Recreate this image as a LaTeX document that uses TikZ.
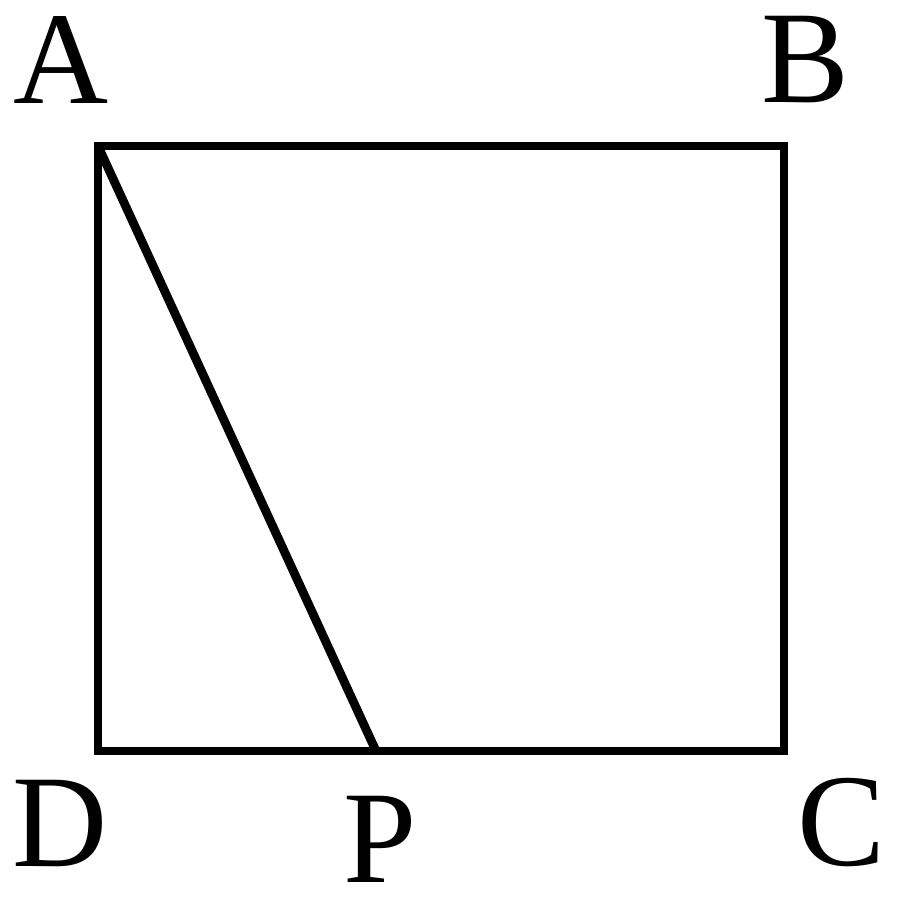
\documentclass[tikz,border=0pt]{standalone}
\usepackage{fontspec}
\setmainfont{Liberation Serif}
\usetikzlibrary{positioning}

\begin{document}
\begin{tikzpicture}[x=0.02cm, y=0.02cm, line join=miter,
        edge/.style={line width=5pt},
        vlabel/.style={anchor=base, inner sep=0pt, text depth=0pt, font=\fontsize{75}{80}\selectfont}]
        \useasboundingbox (0, 0) rectangle (900, 904);

        \coordinate (A) at (98, 758);
        \coordinate (B) at (784, 758);
        \coordinate (C) at (784, 153);
        \coordinate (D) at (98, 153);
        \coordinate (P) at (376, 153);

        \draw[edge] (A) -- (B) -- (C) -- (D) -- cycle;
        \draw[edge] (A) -- (P);

        \node[vlabel] (lA) at (61, 800) {A};
        \node[vlabel] (lB) at (805, 801) {B};
        \node[vlabel] (lC) at (841, 38) {C};
        \node[vlabel] (lD) at (60, 37) {D};
        \node[vlabel] (lP) at (380, 21) {P};
    \end{tikzpicture}
\end{document}
